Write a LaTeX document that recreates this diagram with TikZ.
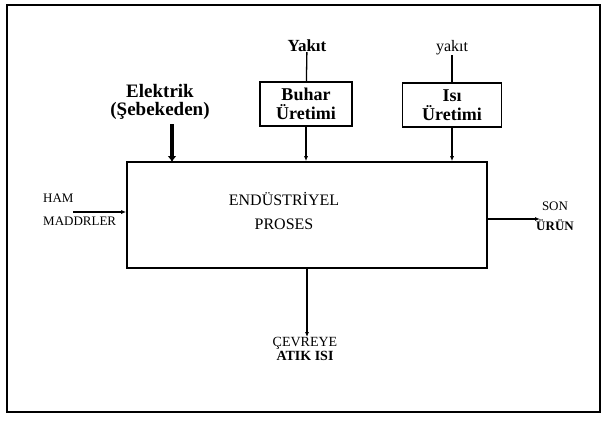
\documentclass[tikz,border=0pt]{standalone}
\usepackage{fontspec}
\setmainfont{Liberation Serif}
\usetikzlibrary{arrows.meta, positioning}

\begin{document}
\begin{tikzpicture}[
    x=1pt, y=-1pt,
    box/.style={draw, line width=1.6pt, inner sep=0pt},
    unit/.style={box, minimum width=92pt, minimum height=44pt, align=center,
                 font=\fontsize{18}{19}\selectfont\bfseries},
    lbl/.style={inner sep=0pt, align=center, font=\fontsize{13}{15}\selectfont},
    flow/.style={line width=1.3pt, -{Latex[length=5pt,width=4pt]}}
  ]
  \useasboundingbox (0,0) rectangle (604,420);
  \draw[line width=1.3pt] (7,5) rectangle (600,412);

  % main process
  \node[box, minimum width=360pt, minimum height=106pt] (proses) at (307,215) {};
  \node[lbl, font=\fontsize{16}{24}\selectfont] (prosesText) at (284,211)
       {ENDÜSTRİYEL\\PROSES};

  % utilities on top
  \node[unit] (buhar) at (306,104) {Buhar\\Üretimi};
  \node[unit, minimum width=99pt] (isi) at (452,105) {Isı\\Üretimi};
  \node[lbl, font=\fontsize{17}{18}\selectfont\bfseries] (yakit1) at (307,46) {Yakıt};
  \node[lbl, font=\fontsize{16}{18}\selectfont] (yakit2) at (452,48) {yakıt};
  \node[lbl, font=\fontsize{19}{18}\selectfont\bfseries] (elektrik) at (160,102)
       {Elektrik\\(Şebekeden)};

  \draw[line width=1.3pt] (yakit1) -- (buhar);
  \draw[line width=1.3pt] (yakit2) -- (isi);
  \draw[flow] (buhar) -- (buhar |- proses.north);
  \draw[flow] (isi) -- (isi |- proses.north);
  \draw[line width=4pt, -{Latex[length=6pt,width=9pt]}]
       (172,124) -- (172,162);

  % inputs / outputs
  \node[lbl, align=left, font=\fontsize{13}{23}\selectfont, anchor=west] (ham) at (43,210)
       {HAM\\MADDRLER};
  \coordinate (hamStart) at (73,212);
  \draw[flow] (hamStart) -- (proses.west |- hamStart);

  \node[lbl, font=\fontsize{13}{20}\selectfont] (son) at (555,216)
       {SON\\\bfseries ÜRÜN};
  \coordinate (sonEnd) at (540,219);
  \draw[flow] (proses.east |- sonEnd) -- (sonEnd);

  \node[lbl, font=\fontsize{14}{14}\selectfont] (cevre) at (305,349)
       {ÇEVREYE\\\bfseries ATIK ISI};
  \draw[flow] (proses.south) -- (cevre.north -| proses.south);
\end{tikzpicture}
\end{document}
